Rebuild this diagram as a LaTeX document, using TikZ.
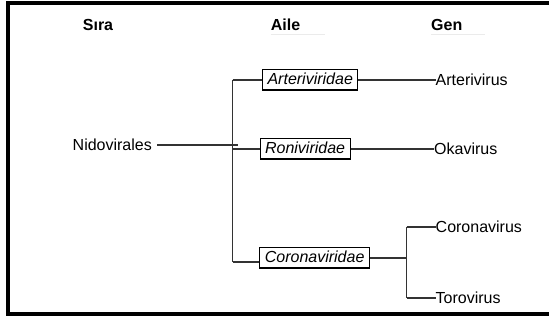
\documentclass[tikz,border=0pt]{standalone}
\usepackage{fontspec}
\setmainfont{Liberation Sans}
\begin{document}
\begin{tikzpicture}[x=1pt,y=-1pt,
  txt/.style={inner sep=0pt,anchor=west,font=\fontsize{16}{19}\selectfont,text height=11.5pt,text depth=0pt},
  head/.style={txt,font=\fontsize{16}{19}\selectfont\bfseries},
  fam/.style={draw=black,line width=1.1pt,anchor=west,inner xsep=5pt,inner ysep=2.6pt,
    font=\fontsize{16}{19}\selectfont\itshape,text height=11.5pt,text depth=3.4pt},
  conn/.style={draw=black!80,line width=1.2pt},
  faint/.style={draw=black!8,line width=1pt}]
\useasboundingbox (0,0) rectangle (549,320);
\draw[line width=4pt] (549,3) -- (8,3) -- (8,314.5) -- (549,314.5);
% headers
\node[head] (sira) at (82.7,25) {Sıra};
\node[head] (aile) at (270.7,25) {Aile};
\node[head] (gen) at (431,25) {Gen};
\coordinate (ailel) at (270.7,35); \coordinate (ailer) at (325,35);
\coordinate (genl) at (431,35); \coordinate (genr) at (485,35);
\draw[faint] (ailel) -- (ailer);
\draw[faint] (genl) -- (genr);
% nodes
\node[txt] (nido) at (72.5,145) {Nidovirales};
\node[fam] (arte) at (262,80) {Arteriviridae};
\node[fam] (roni) at (259.5,149) {Roniviridae};
\node[fam] (coro) at (259.3,258) {Coronaviridae};
\node[txt] (artv) at (435.5,80) {Arterivirus};
\node[txt] (okav) at (434,149) {Okavirus};
\node[txt] (corv) at (435.5,227) {Coronavirus};
\node[txt] (torv) at (435.5,298) {Torovirus};
% connectors
\coordinate (vtop) at (232.5,80);
\coordinate (vbot) at (232.5,262);
\coordinate (rtop) at (406.5,227);
\coordinate (rbot) at (406.5,298);
\draw[conn] ([xshift=5pt]nido.east) -- ([xshift=5pt]nido.east -| vtop);
\draw[conn] (vtop) -- (vbot);
\draw[conn] (vtop) -- (arte.west);
\draw[conn] (roni.west -| vtop) -- (roni.west);
\draw[conn] (vbot) -- (vbot -| coro.west);
\draw[conn] (arte.east) -- (artv.west);
\draw[conn] (roni.east) -- (okav.west);
\draw[conn] (coro.east) -- (coro.east -| rtop);
\draw[conn] (rtop) -- (rbot);
\draw[conn] (rtop) -- (corv.west);
\draw[conn] (rbot) -- (torv.west);
\end{tikzpicture}
\end{document}
